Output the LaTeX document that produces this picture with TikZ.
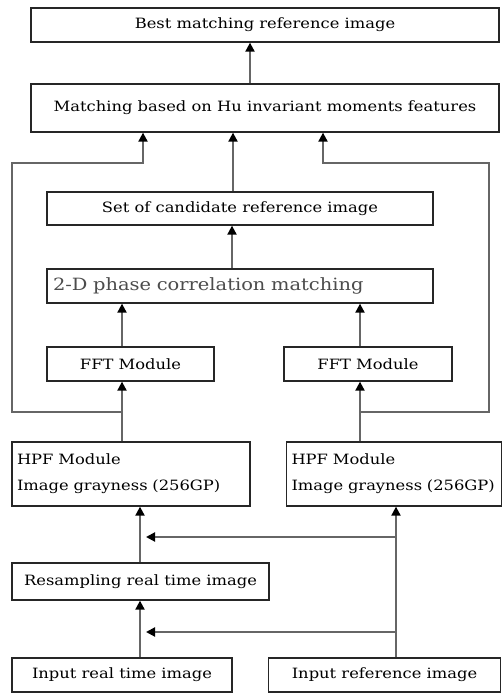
\documentclass[tikz,border=0pt]{standalone}
\usepackage{fontspec}
\setmainfont{DejaVu Serif}[FakeStretch=1.15]
\usetikzlibrary{arrows.meta, positioning, calc}

\begin{document}
\begin{tikzpicture}[x=1pt, y=-1pt,
    block/.style={rectangle, draw=black!85, line width=1.3pt, fill=white, inner sep=0pt, font=\fontsize{14.2}{16}\selectfont},
    leftblock/.style={block, align=left, inner xsep=5pt, font=\fontsize{14.2}{26}\selectfont},
    flow/.style={draw=black!60, line width=2pt, -{Triangle[width=9pt, length=9pt, color=black]}},
    wire/.style={draw=black!60, line width=2pt}
  ]
  \useasboundingbox (0,0) rectangle (501,693);

  % --- upper blocks ---
  \node[block, minimum width=468pt, minimum height=34pt] (best) at (265,25) {Best matching reference image};
  \node[block, minimum width=468pt, minimum height=48pt] (hu) at (265,108) {Matching based on Hu invariant moments features};
  \node[block, minimum width=386pt, minimum height=33pt] (cand) at (240,208.5) {Set of candidate reference image};
  \node[block, minimum width=386pt, minimum height=34pt, align=left, text width=374pt, inner xsep=6pt,
        font=\fontsize{16.9}{18}\selectfont, text=black!70] (phase) at (240,286) {2-D phase correlation matching};

  % --- FFT / HPF ---
  \node[block, minimum width=167pt, minimum height=34pt] (fftL) at (130.5,364) {FFT Module};
  \node[block, minimum width=168pt, minimum height=34pt] (fftR) at (368,364) {FFT Module};
  \node[leftblock, text width=228pt, minimum height=64pt] (hpfL) at (131,474) {HPF Module\\Image grayness (256GP)};
  \node[leftblock, text width=205pt, minimum height=64pt] (hpfR) at (394,474) {HPF Module\\Image grayness (256GP)};

  % --- lower blocks ---
  \node[block, minimum width=257pt, minimum height=37pt] (resamp) at (140.5,581.5) {Resampling real time image};
  \node[block, minimum width=220pt, minimum height=34pt] (inRT) at (122,675) {Input real time image};
  \node[block, minimum width=232pt, minimum height=34pt] (inRef) at (384.5,675) {Input reference image};

  % --- junctions ---
  \coordinate (jl) at (122,412);
  \coordinate (jr) at (360,412);
  \coordinate (b1) at (396,537);
  \coordinate (b2) at (396,632);

  % --- connectors ---
  \draw[flow] (hu.north -| 250,0) -- (best.south -| 250,0);
  \draw[flow] (cand.north -| 233,0) -- (hu.south -| 233,0);
  \draw[flow] (jl) -| (12,163) -| (hu.south -| 143,0);
  \draw[flow] (jr) -| (489,163) -| (hu.south -| 323,0);
  \draw[flow] (phase.north -| 232,0) -- (cand.south -| 232,0);
  \draw[flow] (fftL.north -| jl) -- (phase.south -| jl);
  \draw[flow] (fftR.north -| jr) -- (phase.south -| jr);
  \draw[flow] (hpfL.north -| jl) -- (fftL.south -| jl);
  \draw[flow] (hpfR.north -| jr) -- (fftR.south -| jr);

  \draw[flow] (inRT.north -| 140,0) -- (resamp.south -| 140,0);
  \draw[flow] (resamp.north -| 140,0) -- (hpfL.south -| 140,0);
  \draw[flow] (inRef.north -| b1) -- (hpfR.south -| b1);
  \draw[flow] (b1) -- (b1 -| 146,0);
  \draw[flow] (b2) -- (b2 -| 146,0);
\end{tikzpicture}
\end{document}
